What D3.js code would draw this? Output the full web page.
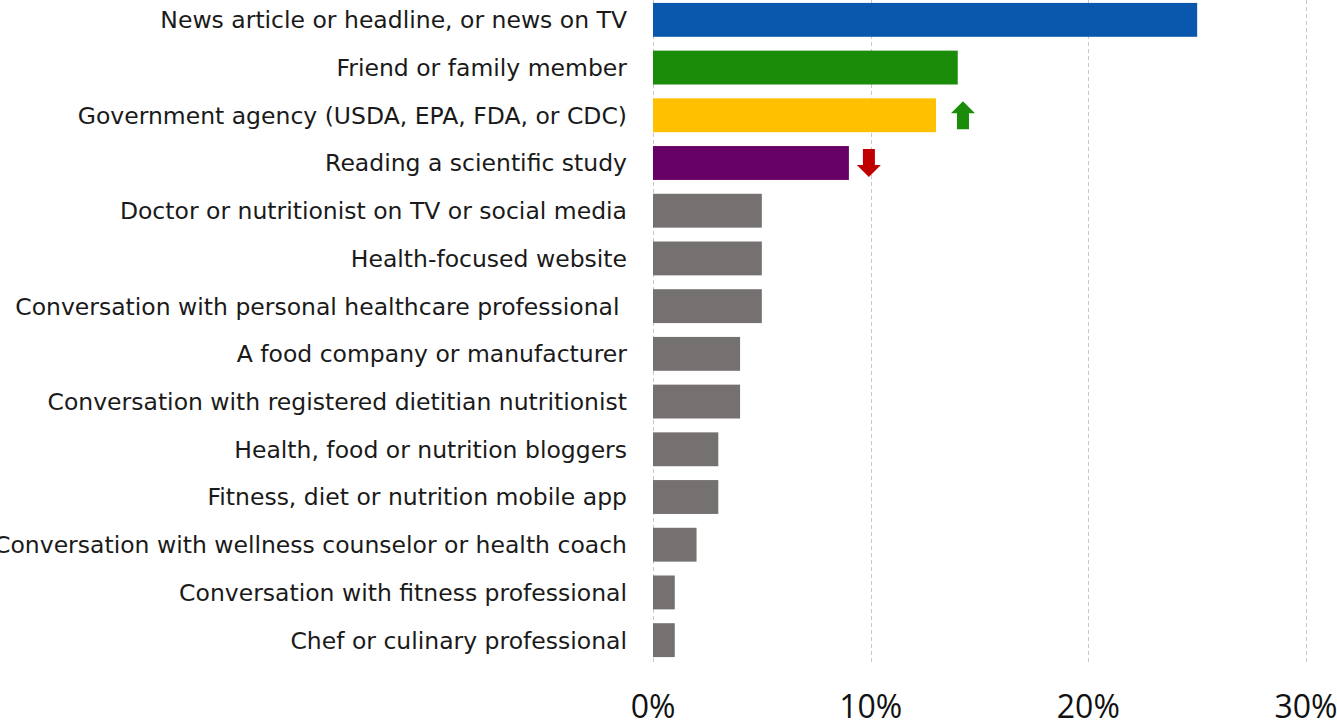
<!DOCTYPE html>
<html>
<head>
<meta charset="utf-8">
<script src="https://d3js.org/d3.v7.min.js"></script>
<style>
  body { margin: 0; background: #fff; }
</style>
</head>
<body>
<script>
// data
let categories = [
  "News article or headline, or news on TV",
  "Friend or family member",
  "Government agency (USDA, EPA, FDA, or CDC)",
  "Reading a scientific study",
  "Doctor or nutritionist on TV or social media",
  "Health-focused website",
  "Conversation with personal healthcare professional ",
  "A food company or manufacturer",
  "Conversation with registered dietitian nutritionist",
  "Health, food or nutrition bloggers",
  "Fitness, diet or nutrition mobile app",
  "Conversation with wellness counselor or health coach",
  "Conversation with fitness professional",
  "Chef or culinary professional"
];
let values = [0.25, 0.14, 0.13, 0.09, 0.05, 0.05, 0.05, 0.04, 0.04, 0.03, 0.03, 0.02, 0.01, 0.01];
let barColors = ["#0a58ae", "#1a8c0a", "#ffc000", "#660066", "#767171", "#767171", "#767171",
                 "#767171", "#767171", "#767171", "#767171", "#767171", "#767171", "#767171"];
let tickValues = [0, 0.1, 0.2, 0.3];
let arrowCats = ["Government agency (USDA, EPA, FDA, or CDC)", "Reading a scientific study"];
let arrowDirs = ["up", "down"];

let width = 1337, height = 721;

let svg = d3.select("body").append("svg")
  .attr("width", width)
  .attr("height", height);

let x = d3.scaleLinear().domain([0, 0.3]).range([653, 1306]);
let y = d3.scaleBand().domain(categories).range([-4, 664])
  .paddingInner(0.29).paddingOuter(0.145);

// gridlines
svg.append("g").selectAll("line")
  .data(tickValues)
  .join("line")
    .attr("x1", d => Math.round(x(d)) + 0.5)
    .attr("x2", d => Math.round(x(d)) + 0.5)
    .attr("y1", 0)
    .attr("y2", 665)
    .attr("stroke", "#c8c8c8")
    .attr("stroke-width", 1)
    .attr("stroke-dasharray", "4,3");

// bars
svg.append("g").selectAll("rect")
  .data(values)
  .join("rect")
    .attr("x", x(0))
    .attr("y", (d, i) => y(categories[i]))
    .attr("width", d => x(d) - x(0))
    .attr("height", y.bandwidth())
    .attr("fill", (d, i) => barColors[i]);

// category labels
svg.append("g").selectAll("text")
  .data(categories)
  .join("text")
    .attr("x", 627)
    .attr("y", d => y(d) + y.bandwidth() / 2)
    .attr("dy", "0.36em")
    .attr("text-anchor", "end")
    .style("white-space", "pre")
    .attr("font-family", "DejaVu Sans, Verdana, sans-serif")
    .attr("font-size", "23.5px")
    .attr("fill", "#1a1a1a")
    .text(d => d);

// tick labels
svg.append("g").selectAll("text")
  .data(tickValues)
  .join("text")
    .attr("x", d => x(d))
    .attr("y", 718)
    .attr("text-anchor", "middle")
    .attr("font-family", "Open Sans, Liberation Sans, sans-serif")
    .attr("font-size", "32px")
    .attr("fill", "#111")
    .text(d => d3.format(".0%")(d));

// change arrows
let arrowPath = d3.path();
arrowPath.moveTo(0, -14);
arrowPath.lineTo(12, -2);
arrowPath.lineTo(6, -2);
arrowPath.lineTo(6, 14);
arrowPath.lineTo(-6, 14);
arrowPath.lineTo(-6, -2);
arrowPath.lineTo(-12, -2);
arrowPath.closePath();

svg.append("g").selectAll("path")
  .data(arrowCats)
  .join("path")
    .attr("d", arrowPath.toString())
    .attr("transform", (d, i) => {
      let v = values[categories.indexOf(d)];
      let cx = x(v) + (arrowDirs[i] == "up" ? 27 : 20);
      let cy = y(d) + y.bandwidth() / 2;
      return "translate(" + cx + "," + cy + ")" + (arrowDirs[i] == "up" ? "" : " rotate(180)");
    })
    .attr("fill", (d, i) => arrowDirs[i] == "up" ? "#1a8c0a" : "#c00000");
</script>
</body>
</html>
